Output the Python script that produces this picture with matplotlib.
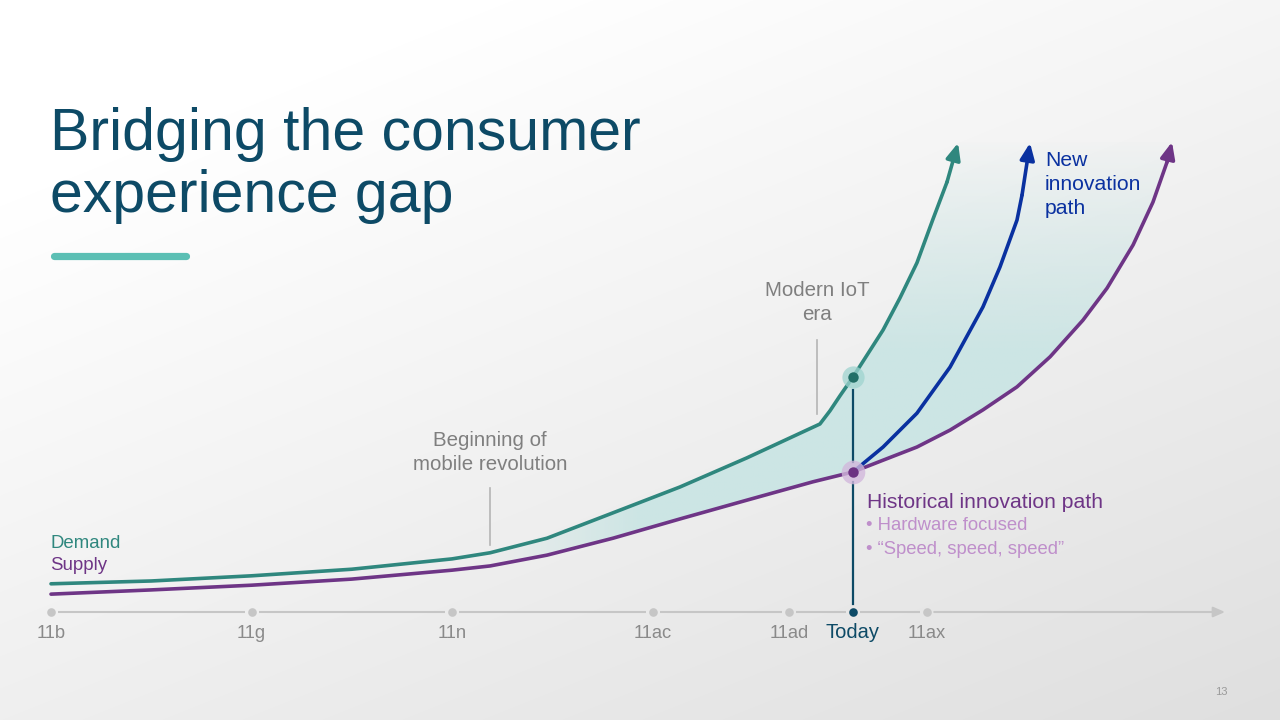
import numpy as np
import matplotlib
matplotlib.use("Agg")
import matplotlib.pyplot as plt
from matplotlib.path import Path
from matplotlib.patches import PathPatch

plt.rcParams['font.family'] = ['Liberation Sans', 'DejaVu Sans']

# ---------------- data ----------------
title_lines = ["Bridging the consumer", "experience gap"]
gen_labels = ['11b', '11g', '11n', '11ac', '11ad', 'Today', '11ax']
gen_pos = [0.0, 1.0, 2.0, 3.0, 3.68, 4.0, 4.37]

demand_x = [0.0, 0.5, 1.0, 1.5, 2.0, 2.19, 2.474, 2.803, 3.137, 3.471, 3.835,
            3.885, 3.935, 4.0, 4.150, 4.234, 4.319, 4.399, 4.469, 4.524]
demand_y = [6.0, 6.6, 7.7, 9.1, 11.3, 12.6, 15.7, 21.1, 26.6, 32.8, 40.0,
            42.8, 46.0, 50.0, 60.0, 66.8, 74.3, 83.6, 91.5, 99.8]

supply_x = [0.0, 0.5, 1.0, 1.5, 2.0, 2.19, 2.474, 2.803, 3.137, 3.471, 3.8, 4.0,
            4.150, 4.319, 4.484, 4.648, 4.818, 4.983, 5.147, 5.267, 5.397, 5.496, 5.566, 5.591]
supply_y = [3.8, 4.7, 5.7, 7.0, 8.9, 9.8, 12.1, 15.7, 19.8, 23.8, 27.7, 29.8,
            32.3, 35.1, 38.7, 43.0, 47.9, 54.3, 62.1, 68.9, 78.1, 87.2, 95.7, 100.0]

new_x = [4.0, 4.150, 4.319, 4.484, 4.648, 4.733, 4.818, 4.843, 4.883]
new_y = [29.8, 35.1, 42.3, 52.1, 64.9, 73.4, 83.4, 88.7, 99.8]

mobile_x = 2.19
iot_x = 3.82
today_x = 4.0
demand_today = 50.0
supply_today = 29.8

mobile_label = ["Beginning of", "mobile revolution"]
iot_label = ["Modern IoT", "era"]
new_label = ["New", "innovation", "path"]
hist_title = "Historical innovation path"
hist_bullets = ["\u2022 Hardware focused", "\u2022 \u201cSpeed, speed, speed\u201d"]
page_number = "13"

# ---------------- colours ----------------
TEAL = '#2f877e'
PURPLE = '#6e3586'
BLUE = '#0a31a0'
NAVY = '#0d4a66'
GRAY_TXT = '#7f7f7f'
AXIS_GRAY = '#c6c6c6'
FILL_RGB = (0.80, 0.90, 0.895)

W, H = 1280, 720
fig = plt.figure(figsize=(12.8, 7.2), dpi=100)

# background gradient
bg = fig.add_axes([0, 0, 1, 1])
bg.set_axis_off()
yy, xx = np.mgrid[0:H, 0:W]
u = np.clip((xx / W) * 0.5 + (yy / H) * 0.7 - 0.2, 0, 1)
g = (255 - 32 * u) / 255.0
bg.imshow(np.dstack([g, g, g]), extent=[0, W, H, 0], aspect='auto', zorder=0)
bg.set_xlim(0, W)
bg.set_ylim(H, 0)

# title
fig.text(50 / W, 1 - 150 / H, title_lines[0], fontsize=42.5, color=NAVY, va='baseline', ha='left')
fig.text(50 / W, 1 - 212 / H, title_lines[1], fontsize=42.5, color=NAVY, va='baseline', ha='left')
bg.plot([54, 186], [256, 256], color='#5bbfb4', lw=5.2, solid_capstyle='round', zorder=2)
bg.text(1221, 692, page_number, fontsize=8, color='#9a9a9a', ha='center', va='center')

# main chart axes: x unit = 200.5 px, y unit = 4.7 px
PX_X, PX_Y = 200.5, 4.7
ax = fig.add_axes([51 / W, (H - 612) / H, 1174 / W, 470 / H])
ax.set_xlim(0, 1174 / PX_X)
ax.set_ylim(0, 100)
ax.set_axis_off()
ax.patch.set_alpha(0)

# gradient fill between demand and supply after the mobile revolution
dx = np.array(demand_x); dy = np.array(demand_y)
sx = np.array(supply_x); sy = np.array(supply_y)
md = dx >= mobile_x
ms = sx >= mobile_x
px = np.concatenate([dx[md], sx[ms][::-1]])
py = np.concatenate([dy[md], sy[ms][::-1]])
verts = np.column_stack([px, py])
poly = PathPatch(Path(np.vstack([verts, verts[:1]]), closed=True), facecolor='none', edgecolor='none')
ax.add_patch(poly)
gx, gy = np.meshgrid(np.linspace(mobile_x, 5.7, 400), np.linspace(0, 100, 300))
a_x = np.clip((gx - mobile_x) / 0.75, 0, 1)
a_y = np.clip(1 - (gy - 55) / 47, 0.0, 1)
alpha = a_x * a_y
img = np.zeros(gx.shape + (4,))
img[..., 0], img[..., 1], img[..., 2] = FILL_RGB
img[..., 3] = alpha
im = ax.imshow(img, extent=[mobile_x, 5.7, 0, 100], origin='lower', aspect='auto', zorder=1, interpolation='bilinear')
im.set_clip_path(poly)

LW = 2.6
# curves
for xs, ys, c in [(demand_x, demand_y, TEAL), (supply_x, supply_y, PURPLE), (new_x, new_y, BLUE)]:
    ax.plot(xs[:-1], ys[:-1], color=c, lw=LW, solid_joinstyle='round', solid_capstyle='round', zorder=4, clip_on=False)
    ax.annotate('', xy=(xs[-1], ys[-1]), xytext=(xs[-2], ys[-2]),
                arrowprops=dict(arrowstyle='-|>,head_length=0.55,head_width=0.24', color=c,
                                lw=LW, shrinkA=0, shrinkB=0, mutation_scale=18),
                zorder=5, annotation_clip=False)

# timeline axis with gaps around the dots
gap = 7 / PX_X
pos = list(gen_pos)
for a, b in zip(pos[:-1], pos[1:]):
    ax.plot([a + gap, b - gap], [0, 0], color=AXIS_GRAY, lw=1.5, zorder=3, clip_on=False, solid_capstyle='butt')
end_x = 1174 / PX_X
ax.annotate('', xy=(end_x, 0), xytext=(pos[-1] + gap, 0),
            arrowprops=dict(arrowstyle='-|>,head_length=0.5,head_width=0.22', color=AXIS_GRAY,
                            lw=1.5, shrinkA=0, shrinkB=0, mutation_scale=14),
            zorder=3, annotation_clip=False)
for p, lab in zip(gen_pos, gen_labels):
    is_today = lab == 'Today'
    ax.plot([p], [0], 'o', ms=6.2, color=NAVY if is_today else AXIS_GRAY, mec='none', zorder=4, clip_on=False)
    ax.text(p, -21 / PX_Y, lab, ha='center', va='center', fontsize=14.5 if is_today else 13.2,
            color=NAVY if is_today else '#8a8a8a')

# today vertical line with gaps around the dots
ax.plot([today_x, today_x], [8 / PX_Y, supply_today - 10 / PX_Y], color=NAVY, lw=1.6, zorder=3, clip_on=False)
ax.plot([today_x, today_x], [supply_today + 10 / PX_Y, demand_today - 13 / PX_Y], color=NAVY, lw=1.6, zorder=3, clip_on=False)

# highlighted dots
ax.plot([today_x], [demand_today], 'o', ms=16, color='#9fd4cf', alpha=0.75, mec='none', zorder=6)
ax.plot([today_x], [demand_today], 'o', ms=7.5, color='#226f67', mec='none', zorder=7)
ax.plot([today_x], [supply_today], 'o', ms=17, color='#d2b8dc', alpha=0.8, mec='none', zorder=6)
ax.plot([today_x], [supply_today], 'o', ms=7.5, color='#6d3283', mec='none', zorder=7)

# leader lines
ax.plot([mobile_x, mobile_x], [(612 - 545) / PX_Y, (612 - 488) / PX_Y], color='#b5b5b5', lw=1.2, zorder=3)
ax.plot([iot_x, iot_x], [(612 - 414) / PX_Y, (612 - 340) / PX_Y], color='#b5b5b5', lw=1.2, zorder=3)

# annotation texts
for i, t in enumerate(mobile_label):
    ax.text(mobile_x, (612 - (440 + 25 * i)) / PX_Y, t, ha='center', va='center', fontsize=14.8, color=GRAY_TXT)
for i, t in enumerate(iot_label):
    ax.text(iot_x, (612 - (290 + 25 * i)) / PX_Y, t, ha='center', va='center', fontsize=14.8, color=GRAY_TXT)
for i, t in enumerate(new_label):
    ax.text((1045 - 51) / PX_X, (612 - (160 + 24 * i)) / PX_Y, t, ha='left', va='center', fontsize=15.2, color=BLUE)

ax.text((867 - 51) / PX_X, (612 - 502) / PX_Y, hist_title, ha='left', va='center', fontsize=15.2, color=PURPLE)
for i, t in enumerate(hist_bullets):
    ax.text((866 - 51) / PX_X, (612 - (525 + 24 * i)) / PX_Y, t, ha='left', va='center', fontsize=13.3, color='#bf8fcb')

# series labels
ax.text(-1 / PX_X, (612 - 544) / PX_Y, "Demand", ha='left', va='center', fontsize=13.4, color=TEAL)
ax.text(-1 / PX_X, (612 - 566) / PX_Y, "Supply", ha='left', va='center', fontsize=13.4, color=PURPLE)

fig.savefig('out.png', dpi=100)
